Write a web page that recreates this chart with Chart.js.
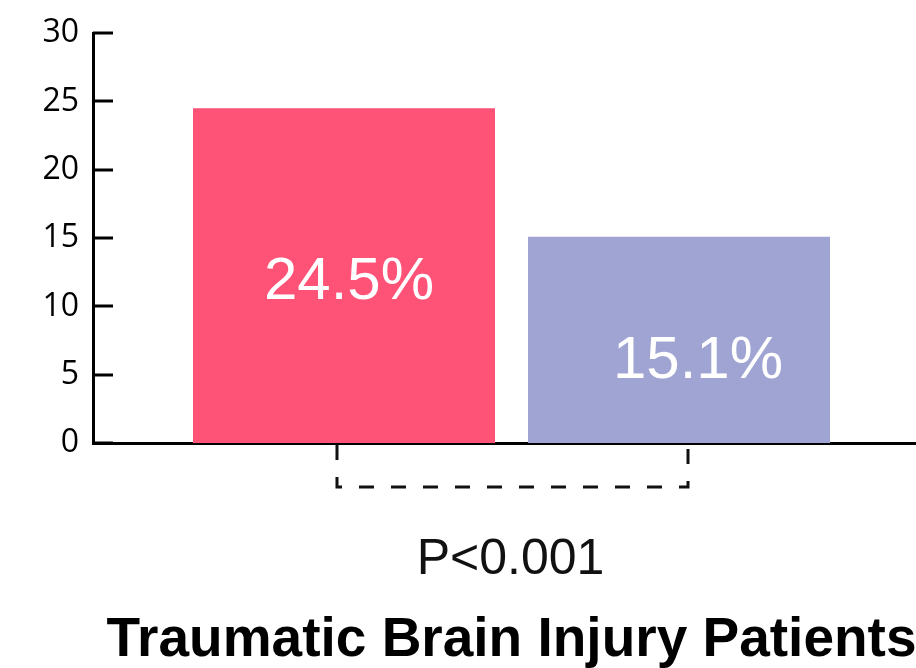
<!DOCTYPE html>
<html>
<head>
<meta charset="utf-8">
<script src="https://cdn.jsdelivr.net/npm/chart.js@4"></script>
<style>
  html, body { margin: 0; padding: 0; background: #fff; }
  #wrap { width: 916px; height: 668px; }
</style>
</head>
<body>
<div id="wrap"><canvas id="barChart"></canvas></div>
<script>
// =============================
// DATA
// =============================

const categories = ['Traumatic Brain Injury Patients'];
const groupNames = ['Group 1', 'Group 2'];
const groupValues = [24.5, 15.1];
const valueLabels = ['24.5%', '15.1%'];
const yTicks = [0, 5, 10, 15, 20, 25, 30];
const pValueText = 'P<0.001';

const barColors = ['#ff5277', '#a0a4d2'];


// =============================
// PLUGINS
// =============================

// the x axis runs off the right edge of the picture
const widenX = {
  id: 'widenX',
  afterLayout(chart) {
    const x = chart.scales.x;
    x.right += 14;
    x.width += 14;
    x.configure();
  }
};

// tick marks pointing into the plot, like the original
const innerTicks = {
  id: 'innerTicks',
  afterDraw(chart) {
    const ctx = chart.ctx;
    const y = chart.scales.y;
    ctx.save();
    ctx.strokeStyle = '#000';
    ctx.lineWidth = 3;
    yTicks.forEach(v => {
      const py = Math.round(y.getPixelForValue(v));
      ctx.beginPath();
      ctx.moveTo(y.right, py);
      ctx.lineTo(y.right + 20, py);
      ctx.stroke();
    });
    ctx.restore();
  }
};

// white value text inside each bar
const barText = {
  id: 'barText',
  afterDatasetsDraw(chart, args, opts) {
    const ctx = chart.ctx;
    ctx.save();
    ctx.fillStyle = '#fff';
    ctx.font = '60px "Liberation Sans", Arial, sans-serif';
    ctx.textAlign = 'center';
    ctx.textBaseline = 'middle';
    chart.data.datasets.forEach((ds, i) => {
      const bar = chart.getDatasetMeta(i).data[0];
      const mid = (bar.y + bar.base) / 2;
      ctx.fillText(valueLabels[i], bar.x + opts.dx[i], mid + opts.dy[i]);
    });
    ctx.restore();
  }
};

// dashed bracket under the bars with the p value
const bracket = {
  id: 'bracket',
  afterDraw(chart) {
    const ctx = chart.ctx;
    const b1 = chart.getDatasetMeta(0).data[0];
    const b2 = chart.getDatasetMeta(1).data[0];
    const top = chart.chartArea.bottom + 2;
    const bottom = chart.chartArea.bottom + 44;
    const left = b1.x - 7;
    const right = b2.x + 9;

    ctx.save();
    ctx.strokeStyle = '#111';
    ctx.lineWidth = 3;
    ctx.setLineDash([15, 17]);
    ctx.beginPath();
    ctx.moveTo(left, top);
    ctx.lineTo(left, bottom);
    ctx.lineTo(right, bottom);
    ctx.lineTo(right, top);
    ctx.stroke();

    ctx.setLineDash([]);
    ctx.fillStyle = '#111';
    ctx.font = '50px "Liberation Sans", Arial, sans-serif';
    ctx.textAlign = 'center';
    ctx.textBaseline = 'alphabetic';
    ctx.fillText(pValueText, (left + right) / 2 - 2, 574);
    ctx.restore();
  }
};


// =============================
// BAR CHART
// =============================

const barCtx = document.getElementById('barChart');

new Chart(barCtx, {

  type: 'bar',

  data: {
    labels: categories,
    datasets: groupNames.map((name, i) => ({
      label: name,
      data: [groupValues[i]],
      backgroundColor: barColors[i],
      borderWidth: 0,
      categoryPercentage: 0.8005,
      barPercentage: 0.9015
    }))
  },

  options: {
    responsive: true,
    maintainAspectRatio: false,
    animation: false,
    layout: {
      padding: { top: 32, right: 0, left: 0, bottom: 0 }
    },
    plugins: {
      legend: { display: false },
      tooltip: { enabled: false },
      barText: {
        dx: [5, 19],
        dy: [7, 22]
      }
    },
    scales: {
      x: {
        grid: { display: false, drawTicks: false },
        border: { display: true, color: '#000', width: 3 },
        ticks: {
          color: '#000',
          padding: 165,
          maxRotation: 0,
          font: { family: '"Liberation Sans", Arial, sans-serif', size: 55, weight: 'bold' }
        },
        afterFit(scale) {
          scale.height = 225;
          scale.paddingLeft = 0;
          scale.paddingRight = 0;
        }
      },
      y: {
        min: 0,
        max: 30,
        grid: { display: false, drawTicks: false },
        border: { display: true, color: '#000', width: 3 },
        ticks: {
          stepSize: 5,
          color: '#000',
          padding: 14,
          font: { family: '"Open Sans", sans-serif', size: 32 }
        },
        afterFit(scale) { scale.width = 93; }
      }
    }
  },

  plugins: [widenX, innerTicks, barText, bracket]

});
</script>
</body>
</html>
